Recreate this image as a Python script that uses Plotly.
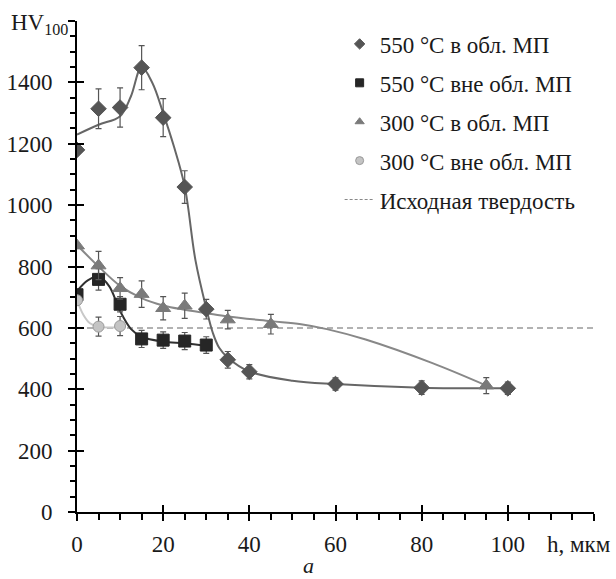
import plotly.graph_objects as go

# ---- measured points ----
d550_in_x = [0, 5, 10, 15, 20, 25, 30, 35, 40, 60, 80, 100]
d550_in_y = [1180, 1314, 1318, 1448, 1285, 1059, 661, 496, 457, 417, 405, 403]
d550_in_e = [0, 65, 64, 72, 62, 53, 32, 27, 23, 20, 22, 20]

d550_out_x = [0, 5, 10, 15, 20, 25, 30]
d550_out_y = [708, 758, 677, 564, 560, 557, 544]
d550_out_e = [0, 35, 25, 28, 27, 28, 27]

d300_in_x = [0, 5, 10, 15, 20, 25, 35, 45, 95]
d300_in_y = [868, 803, 729, 710, 664, 672, 627, 612, 412]
d300_in_e = [0, 46, 35, 43, 38, 41, 30, 32, 26]

d300_out_x = [0, 5, 10]
d300_out_y = [690, 604, 606]
d300_out_e = [0, 31, 31]

# ---- trend curves ----
c550_in_x = [0, 5, 10, 12.5, 15, 17.5, 20, 22.5, 25, 27.5, 30, 31.5, 33, 35, 40, 50, 60, 80, 100]
c550_in_y = [1230, 1262, 1290, 1354, 1450, 1398, 1300, 1191, 1061, 820, 664, 585, 535, 503, 458, 428, 417, 405, 403]

c550_out_x = [0, 2.5, 5, 7.5, 10, 12.5, 15, 20, 25, 30]
c550_out_y = [720, 755, 768, 735, 655, 597, 571, 555, 550, 542]

c300_in_x = [0, 5, 10, 15, 20, 25, 30, 35, 45, 52, 58, 67, 82.5, 95]
c300_in_y = [870, 800, 737, 697, 673, 659, 648, 637, 622, 612, 596, 562, 485, 412]

c300_out_x = [0, 1.5, 3, 5, 7.5, 10]
c300_out_y = [690, 642, 615, 604, 601, 604]

base_x = [0, 120]
base_hv = [600, 600]

names = ["550 °C в обл. МП", "550 °C вне обл. МП", "300 °C в обл. МП", "300 °C вне обл. МП"]
base_name = "Исходная твердость"

y_ticks = [0, 200, 400, 600, 800, 1000, 1200, 1400, 1600]
y_text = ["0", "200", "400", "600", "800", "1000", "1200", "1400", ""]
x_ticks = [0, 20, 40, 60, 80, 100, 120]
x_text = ["0", "20", "40", "60", "80", "100", ""]

FONT = "'Liberation Serif', 'Times New Roman', 'DejaVu Serif', serif"
FS = 23

series = [
    (d550_in_x, d550_in_y, d550_in_e, c550_in_x, c550_in_y, "diamond", 12, "#555555", "#555555", "#666666"),
    (d550_out_x, d550_out_y, d550_out_e, c550_out_x, c550_out_y, "square", 12, "#262626", "#262626", "#303030"),
    (d300_in_x, d300_in_y, d300_in_e, c300_in_x, c300_in_y, "triangle-up", 13, "#7a7a7a", "#7a7a7a", "#888888"),
    (d300_out_x, d300_out_y, d300_out_e, c300_out_x, c300_out_y, "circle", 11, "#c4c4c4", "#999999", "#c8c8c8"),
]

fig = go.Figure()

# baseline
fig.add_trace(go.Scatter(x=base_x, y=base_hv, mode="lines",
                         line=dict(color="#999999", width=1.5, dash="6px,4px"),
                         showlegend=False, hoverinfo="skip"))

for (px, py, pe, cx, cy, sym, sz, fc, lc, cc) in series:
    fig.add_trace(go.Scatter(x=cx, y=cy, mode="lines", line=dict(color=cc, width=2, shape="spline", smoothing=1.0),
                             showlegend=False, hoverinfo="skip"))
for (px, py, pe, cx, cy, sym, sz, fc, lc, cc) in series:
    fig.add_trace(go.Scatter(x=px, y=py, mode="markers",
                             marker=dict(symbol=sym, size=sz, color=fc, line=dict(color=lc, width=1)),
                             error_y=dict(type="data", array=pe, visible=True, color="#555555", thickness=1.2, width=3),
                             showlegend=False))

# legend entries
for i, (px, py, pe, cx, cy, sym, sz, fc, lc, cc) in enumerate(series):
    fig.add_trace(go.Scatter(x=[None], y=[None], mode="markers", name=names[i], legendgroup="g%d" % i,
                             marker=dict(symbol=sym, size=8, color=fc, line=dict(color=lc, width=1))))
fig.add_trace(go.Scatter(x=[None], y=[None], mode="lines", name=base_name, legendgroup="g5",
                         line=dict(color="#888888", width=1.2, dash="3px,2px")))

# dummy trace for overlay axes
fig.add_trace(go.Scatter(x=[None], y=[None], xaxis="x2", yaxis="y2", showlegend=False, hoverinfo="skip"))

tickfont = dict(family=FONT, size=FS, color="#1a1a1a")

fig.update_layout(
    width=616, height=579,
    margin=dict(l=77, r=22, t=21, b=67, autoexpand=False),
    paper_bgcolor="white", plot_bgcolor="white",
    font=dict(family=FONT, size=FS, color="#1a1a1a"),
    showlegend=True,
    legend=dict(x=0.508, y=0.997, xanchor="left", yanchor="top", bgcolor="rgba(255,255,255,0)",
                font=dict(family=FONT, size=FS, color="#1a1a1a"), tracegroupgap=6,
                itemwidth=30),
    xaxis=dict(range=[0, 120], showgrid=False, zeroline=False, showline=True, linecolor="black", linewidth=2,
               ticks="outside", ticklen=7, tickwidth=2, tickcolor="black",
               tickvals=x_ticks, ticktext=x_text, tickfont=tickfont, ticklabelstandoff=3,
               minor=dict(ticks="outside", dtick=5, ticklen=6, tickwidth=1.5, tickcolor="black", showgrid=False)),
    yaxis=dict(range=[0, 1600], showgrid=False, zeroline=False, showline=True, linecolor="black", linewidth=2,
               ticks="outside", ticklen=7, tickwidth=2, tickcolor="black",
               tickvals=y_ticks, ticktext=y_text, tickfont=tickfont, ticklabelstandoff=11,
               minor=dict(ticks="outside", dtick=50, ticklen=5, tickwidth=1.5, tickcolor="black", showgrid=False)),
    xaxis2=dict(range=[0, 120], overlaying="x", anchor="y2", side="bottom", showgrid=False, zeroline=False,
                showline=False, ticks="inside", ticklen=7, tickwidth=2, tickcolor="black",
                tickvals=x_ticks, showticklabels=False),
    yaxis2=dict(range=[0, 1600], overlaying="y", anchor="x2", side="left", showgrid=False, zeroline=False,
                showline=False, ticks="inside", ticklen=7, tickwidth=2, tickcolor="black",
                tickvals=y_ticks, showticklabels=False),
    annotations=[
        dict(text="HV<sub>100</sub>", xref="paper", yref="y", x=0, y=1600, xanchor="right", yanchor="middle",
             xshift=-7, yshift=-3, showarrow=False, font=dict(family=FONT, size=FS, color="#1a1a1a")),
        dict(text="h, мкм", xref="paper", yref="paper", x=0.905, y=-0.067, xanchor="left", yanchor="middle",
             showarrow=False, font=dict(family=FONT, size=FS, color="#1a1a1a")),
        dict(text="<i>а</i>", xref="paper", yref="paper", x=0.447, y=-0.108, xanchor="center", yanchor="middle",
             showarrow=False, font=dict(family=FONT, size=22, color="#1a1a1a")),
    ],
)

fig.write_html("out.html")
